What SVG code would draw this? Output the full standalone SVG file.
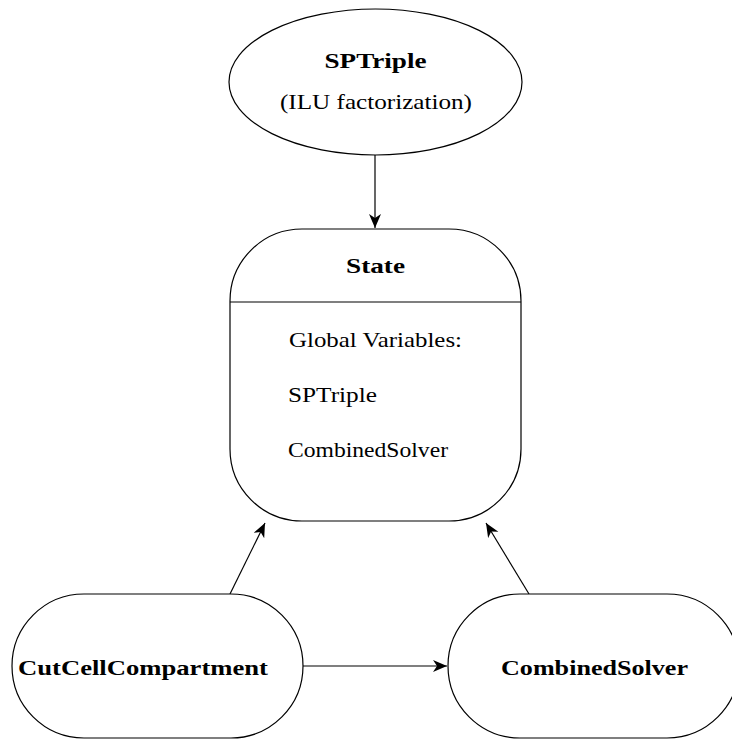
<svg xmlns="http://www.w3.org/2000/svg" width="732" height="740" viewBox="0 0 732 740">
  <style>
    .shape { fill: #ffffff; stroke: #000000; stroke-width: 1.2; }
    .edge { fill: none; stroke: #000000; stroke-width: 1.2; marker-end: url(#stealth); }
    .t { font-family: "Liberation Serif", "Times New Roman", serif; font-size: 22px; fill: #000000; }
    .b { font-weight: bold; }
    .c { text-anchor: middle; }
  </style>
  <defs>
    <!-- stealth-style arrow tip with a concave back -->
    <marker id="stealth" markerUnits="userSpaceOnUse" markerWidth="16" markerHeight="14" refX="14" refY="6" orient="auto">
      <path d="M0,0 L14,6 L0,12 L4,6 Z" fill="#000000"/>
    </marker>
  </defs>

  <!-- connectors -->
  <g id="connectors">
    <line class="edge" x1="375" y1="155" x2="375" y2="228"/>
    <line class="edge" x1="303" y1="666" x2="447" y2="666"/>
    <line class="edge" x1="230" y1="594" x2="265" y2="523"/>
    <line class="edge" x1="529" y1="594" x2="486" y2="523"/>
  </g>

  <!-- SPTriple -->
  <g id="sptriple">
    <ellipse class="shape" cx="375.5" cy="82" rx="146.5" ry="73"/>
    <text class="t b c" x="375.5" y="68" textLength="102" lengthAdjust="spacingAndGlyphs">SPTriple</text>
    <text class="t c" x="376" y="109" textLength="192" lengthAdjust="spacingAndGlyphs">(ILU factorization)</text>
  </g>

  <!-- State -->
  <g id="state">
    <rect class="shape" x="230" y="229" width="291" height="292" rx="72" ry="72"/>
    <line x1="230" y1="302" x2="521" y2="302" stroke="#000000" stroke-width="1.2"/>
    <text class="t b c" x="375.5" y="273" textLength="59" lengthAdjust="spacingAndGlyphs">State</text>
    <text class="t" x="289" y="347" textLength="173" lengthAdjust="spacingAndGlyphs">Global Variables:</text>
    <text class="t" x="288" y="402" textLength="89" lengthAdjust="spacingAndGlyphs">SPTriple</text>
    <text class="t" x="288" y="457" textLength="160" lengthAdjust="spacingAndGlyphs">CombinedSolver</text>
  </g>

  <!-- CutCellCompartment -->
  <g id="cutcellcompartment">
    <rect class="shape" x="12" y="594" width="291" height="144" rx="72" ry="72"/>
    <text class="t b" x="18" y="675" textLength="250" lengthAdjust="spacingAndGlyphs">CutCellCompartment</text>
  </g>

  <!-- CombinedSolver -->
  <g id="combinedsolver">
    <rect class="shape" x="448" y="594" width="291" height="144" rx="72" ry="72"/>
    <text class="t b" x="501" y="675" textLength="187" lengthAdjust="spacingAndGlyphs">CombinedSolver</text>
  </g>
</svg>
